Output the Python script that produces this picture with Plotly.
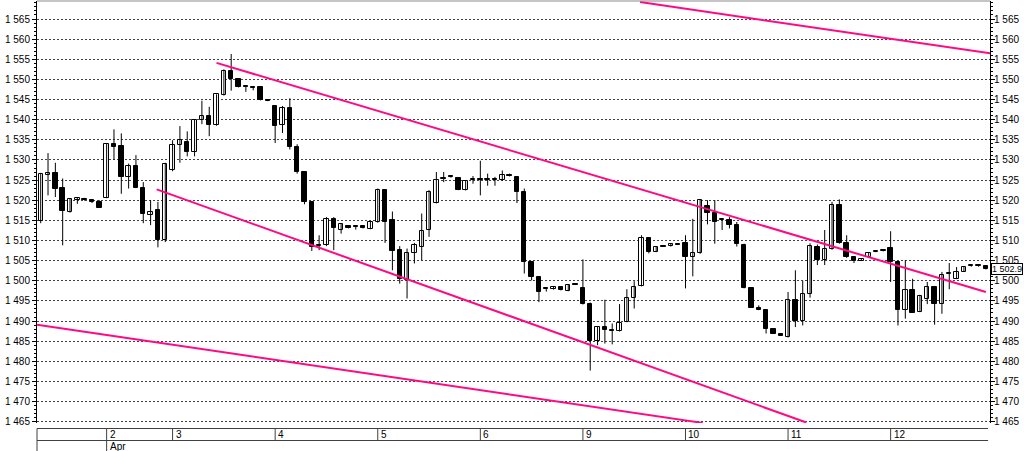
import plotly.graph_objects as go

# ---- data (candle index = 30-min bars, first bar index 0) ----
opens = [1514.8,1526.3,1526.8,1523.0,1517.1,1520.1,1520.4,1520.1,1519.6,1520.6,
         1533.9,1533.4,1525.8,1528.5,1523.0,1516.4,1517.6,1510.0,1527.4,1533.7,
         1534.5,1532.0,1539.9,1541.0,1538.6,1546.1,1552.1,1550.0,1548.2,1548.0,
         1548.0,1544.8,1543.4,1538.6,1542.8,1533.2,1527.0,1519.6,1509.0,1508.8,
         1515.4,1512.7,1513.6,1513.4,1513.5,1512.9,1514.5,1522.5,1515.0,1507.6,
         1500.1,1507.0,1508.4,1512.6,1519.3,1525.2,1525.8,1525.6,1522.5,1525.0,
         1525.1,1525.0,1525.0,1524.9,1526.3,1525.8,1522.1,1504.7,1501.0,1498.0,
         1497.9,1498.5,1497.5,1499.1,1498.2,1494.3,1485.0,1488.5,1487.8,1487.5,
         1489.8,1495.6,1498.7,1510.5,1507.2,1508.6,1508.6,1509.1,1509.3,1505.9,
         1506.8,1518.5,1516.8,1515.0,1515.2,1513.8,1508.8,1498.1,1493.3,1492.8,
         1488.1,1486.9,1486.0,1495.2,1490.0,1496.7,1508.3,1505.1,1507.8,1518.9,
         1509.3,1505.8,1505.0,1505.8,1507.2,1507.4,1508.1,1504.6,1492.7,1497.6,
         1492.3,1495.5,1498.5,1494.2,1501.6,1500.5,1502.3,1503.6,1503.6,1503.6]
highs = [1526.8,1531.7,1529.3,1525.4,1520.4,1520.8,1520.6,1520.1,1520.0,1534.0,
         1537.6,1536.6,1529.1,1531.2,1524.5,1520.0,1519.6,1529.3,1534.9,1538.4,
         1537.1,1540.0,1544.7,1543.2,1546.3,1552.5,1556.3,1550.1,1548.3,1548.1,
         1548.1,1544.9,1543.5,1543.4,1545.3,1533.9,1527.1,1519.7,1511.3,1515.8,
         1515.8,1514.3,1513.8,1513.5,1513.6,1514.7,1522.9,1522.6,1517.2,1508.6,
         1508.0,1509.4,1516.7,1522.5,1527.0,1527.0,1525.9,1525.7,1525.0,1526.0,
         1529.8,1526.6,1525.8,1527.4,1526.6,1525.9,1522.9,1504.8,1501.1,1498.1,
         1498.6,1498.6,1499.0,1499.2,1505.3,1494.6,1488.6,1495.3,1489.4,1494.2,
         1497.9,1499.9,1511.3,1510.6,1508.5,1508.7,1509.2,1509.2,1511.3,1515.4,
         1520.2,1520.0,1520.0,1515.3,1515.8,1514.6,1509.2,1498.2,1493.9,1492.9,
         1488.2,1487.0,1497.2,1502.6,1500.0,1509.3,1509.0,1512.6,1519.6,1520.2,
         1511.3,1505.9,1505.5,1507.0,1507.3,1507.5,1512.3,1504.7,1505.1,1500.5,
         1496.5,1499.7,1498.6,1502.2,1504.4,1503.4,1503.5,1503.7,1503.7,1503.7]
lows = [1514.3,1521.2,1520.8,1508.8,1516.9,1519.1,1519.9,1519.3,1518.1,1520.5,
        1530.0,1521.6,1522.9,1523.0,1514.3,1513.8,1508.3,1509.6,1527.2,1529.3,
        1530.9,1530.9,1538.9,1535.9,1538.5,1546.0,1547.2,1548.0,1546.9,1547.3,
        1544.8,1544.6,1534.2,1536.7,1532.6,1526.6,1519.0,1507.4,1507.6,1508.6,
        1507.6,1511.7,1513.0,1512.7,1513.0,1512.8,1514.4,1509.4,1502.6,1499.3,
        1495.6,1504.3,1505.1,1510.9,1519.2,1524.5,1525.6,1522.5,1522.4,1524.1,
        1521.2,1523.6,1523.6,1524.8,1525.9,1519.3,1501.8,1500.1,1494.7,1497.3,
        1497.8,1497.6,1497.4,1499.0,1494.1,1477.7,1484.0,1484.4,1484.2,1487.4,
        1489.7,1493.1,1498.6,1506.8,1507.1,1508.5,1508.5,1509.0,1498.1,1501.1,
        1506.7,1514.0,1509.2,1512.6,1513.0,1508.5,1498.1,1493.3,1492.7,1486.9,
        1486.8,1486.3,1485.9,1488.5,1488.9,1495.8,1503.9,1503.9,1507.7,1509.2,
        1505.7,1504.4,1504.9,1505.7,1507.1,1507.3,1499.7,1488.9,1490.6,1492.0,
        1492.2,1494.2,1489.1,1491.8,1497.9,1500.4,1502.2,1503.5,1503.5,1502.8]
closes = [1526.6,1526.8,1522.9,1517.3,1520.2,1520.5,1520.0,1519.6,1518.1,1533.9,
          1533.2,1525.8,1528.5,1523.1,1516.7,1517.2,1510.0,1529.0,1533.7,1534.9,
          1532.0,1540.0,1541.0,1538.6,1546.3,1552.1,1550.0,1548.2,1548.0,1547.9,
          1544.9,1544.7,1538.4,1542.8,1533.2,1527.0,1519.6,1508.4,1508.6,1515.4,
          1513.0,1514.0,1513.2,1513.3,1513.2,1514.6,1522.5,1514.6,1507.4,1500.5,
          1507.0,1508.8,1512.4,1522.0,1525.1,1525.3,1525.7,1522.6,1524.8,1525.1,
          1525.0,1525.1,1524.9,1526.2,1526.0,1522.1,1504.7,1501.0,1497.2,1497.9,
          1498.5,1497.8,1498.9,1499.0,1494.2,1485.0,1488.5,1487.7,1487.5,1489.5,
          1495.6,1498.5,1510.5,1507.2,1508.4,1508.5,1509.1,1509.0,1505.9,1506.8,
          1520.0,1516.8,1514.6,1515.1,1513.8,1509.2,1498.1,1493.3,1492.8,1488.1,
          1486.9,1486.4,1495.3,1490.0,1496.7,1508.6,1505.1,1507.8,1518.7,1509.3,
          1505.8,1505.0,1505.4,1506.9,1507.3,1507.4,1504.6,1492.7,1497.6,1492.1,
          1496.1,1498.4,1494.3,1501.5,1501.7,1502.3,1503.4,1503.6,1503.6,1502.9]

day_start_idx = [9, 18, 32, 46, 60, 74, 88, 102, 116]
day_labels = ["2", "3", "4", "5", "6", "9", "10", "11", "12"]
month_idx = 9
month_label = "Apr"
last_price = 1502.9

# trend lines: (index, price) endpoints
trend_top_x = [81.8, 129.6];   trend_top_y = [1569.2, 1556.5]
trend_ch_hi_x = [24.0, 129.0]; trend_ch_hi_y = [1554.1, 1497.2]
trend_ch_lo_x = [15.83, 104.5]; trend_ch_lo_y = [1522.7, 1464.8]
trend_low_x = [-0.5, 90.35];   trend_low_y = [1489.1, 1464.7]

Y_MIN, Y_MAX = 1464.68, 1569.47
X_MIN, X_MAX = -0.505, 129.56

n = len(opens)
idx = list(range(n))

fig = go.Figure()

# wicks
wx, wy = [], []
for i in idx:
    wx += [i, i, None]
    wy += [lows[i], highs[i], None]
fig.add_trace(go.Scatter(x=wx, y=wy, mode="lines",
                         line=dict(color="black", width=1),
                         hoverinfo="skip", showlegend=False))

# bodies
base = [min(o, c) for o, c in zip(opens, closes)]
height = [max(abs(c - o), 0.25) for o, c in zip(opens, closes)]
colors = ["white" if c >= o else "black" for o, c in zip(opens, closes)]
fig.add_trace(go.Bar(x=idx, y=height, base=base, width=0.6,
                     marker=dict(color=colors, line=dict(color="black", width=1)),
                     showlegend=False, hoverinfo="skip"))

pink = "#ff0a84"
for tx, ty in [(trend_top_x, trend_top_y), (trend_ch_hi_x, trend_ch_hi_y),
               (trend_ch_lo_x, trend_ch_lo_y), (trend_low_x, trend_low_y)]:
    fig.add_trace(go.Scatter(x=tx, y=ty, mode="lines",
                             line=dict(color=pink, width=2),
                             hoverinfo="skip", showlegend=False))

# invisible trace for right axis
fig.add_trace(go.Scatter(x=[0], y=[1500], yaxis="y2", mode="markers",
                         marker=dict(opacity=0), hoverinfo="skip", showlegend=False))

font = dict(family="Liberation Sans, Arial, sans-serif", size=10, color="black")
yax = dict(range=[Y_MIN, Y_MAX], dtick=5, tick0=1465, tickformat=",d",
           ticks="outside", ticklen=4, tickcolor="black", tickwidth=1,
           showline=True, linecolor="black", linewidth=1,
           minor=dict(dtick=1, ticks="outside", ticklen=2, tickcolor="black", showgrid=False),
           zeroline=False, tickfont=font, fixedrange=True, automargin=False)

fig.update_layout(
    width=1024, height=451,
    margin=dict(l=37, r=34, t=1, b=28, pad=0, autoexpand=False),
    paper_bgcolor="white", plot_bgcolor="white",
    separators=". ",
    bargap=0,
    xaxis=dict(range=[X_MIN, X_MAX], showgrid=False, zeroline=False,
               showticklabels=False, ticks="", showline=False, automargin=False),
    yaxis=dict(**yax, side="left", showgrid=True, gridcolor="#404040",
               gridwidth=1, griddash="2px,2px"),
    yaxis2=dict(**yax, side="right", overlaying="y", showgrid=False),
    font=font,
)
try:
    fig.update_layout(yaxis2_ticklabelstandoff=-3)
except Exception:
    pass

def py(p):  # pixel y -> paper y
    return (423 - p) / 422.0

band_col = "#404040"
shapes = []
shapes.append(dict(type="line", xref="paper", yref="paper", x0=0, x1=1, y0=1, y1=1,
                   line=dict(color="#8a8a8a", width=1)))
for p in (428.5, 440.5):
    shapes.append(dict(type="line", xref="paper", yref="paper", x0=0, x1=0.998,
                       y0=py(p), y1=py(p), line=dict(color=band_col, width=1)))
shapes.append(dict(type="line", xref="paper", yref="paper", x0=0, x1=0,
                   y0=py(428.5), y1=py(452), line=dict(color=band_col, width=1)))
for d in day_start_idx:
    bottom = 452 if d == month_idx else 440.5
    shapes.append(dict(type="line", xref="x", yref="paper", x0=d, x1=d,
                       y0=py(428.5), y1=py(bottom), line=dict(color=band_col, width=1)))
fig.update_layout(shapes=shapes)

ann = []
for d, lab in zip(day_start_idx, day_labels):
    ann.append(dict(x=d, y=py(434.5), xref="x", yref="paper", text=lab,
                    showarrow=False, xanchor="left", yanchor="middle", xshift=1,
                    font=font))
ann.append(dict(x=month_idx, y=py(446), xref="x", yref="paper", text=month_label,
                showarrow=False, xanchor="left", yanchor="middle", xshift=1, font=font))
ann.append(dict(x=1, y=last_price, xref="paper", yref="y",
                text=f"{last_price:,.1f}".replace(",", " "),
                showarrow=False, xanchor="left", yanchor="middle", xshift=1,
                bordercolor="black", borderwidth=1, borderpad=0, bgcolor="white",
                font=dict(family="Liberation Sans, Arial, sans-serif", size=9, color="black")))
fig.update_layout(annotations=ann)

fig.write_html("out.html", config={"displayModeBar": False})

# remove default page margin so the figure sits at the window's top-left corner
with open("out.html", "r", encoding="utf-8") as f:
    html = f.read()
html = html.replace("<head>", "<head><style>html,body{margin:0;padding:0;overflow:hidden;}</style>", 1)
with open("out.html", "w", encoding="utf-8") as f:
    f.write(html)
